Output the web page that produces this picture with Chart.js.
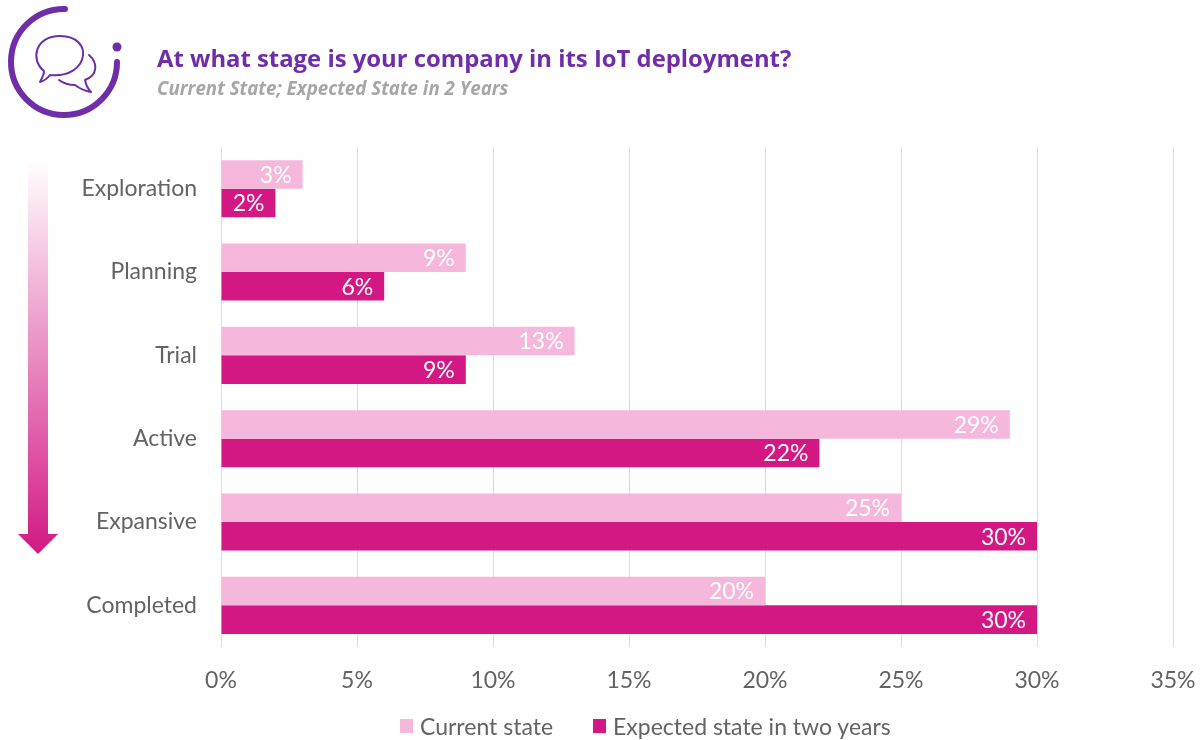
<!DOCTYPE html>
<html>
<head>
<meta charset="utf-8">
<title>IoT deployment stage</title>
<script src="https://cdn.jsdelivr.net/npm/chart.js@4"></script>
<style>
    html, body { margin: 0; padding: 0; background: #fff; }
    #page { position: relative; width: 1204px; height: 740px; overflow: hidden; }
    #barChart { position: absolute; left: 0; top: 0; }
    .deco { position: absolute; left: 0; top: 0; }
    h1, h2 { position: absolute; left: 157px; margin: 0; font-family: "Open Sans", sans-serif; white-space: nowrap; }
    h1 { top: 42px; font-size: 23.85px; line-height: 32px; font-weight: 700; color: #6f2da8; }
    h2 { top: 77px; font-size: 18.7px; line-height: 22px; font-weight: 700; font-style: italic; color: #a6a6a6; }
    #legend { position: absolute; left: 400px; top: 711px; display: flex; font: 23px/30px Lato, sans-serif; color: #636363; white-space: nowrap; }
    #legend span { display: flex; align-items: center; margin-right: 40px; }
    #legend i { width: 13px; height: 14px; margin-right: 7px; }
</style>
</head>
<body>
<div id="page">
    <canvas id="barChart" width="1204" height="740"></canvas>

    <!-- logo ring with speech bubbles, and the stage arrow on the left -->
    <svg class="deco" width="1204" height="740" fill="none">
        <defs>
            <linearGradient id="arrowFill" x1="0" y1="0" x2="0" y2="1">
                <stop offset="0" stop-color="#ffffff"/>
                <stop offset="1" stop-color="#d31884"/>
            </linearGradient>
        </defs>
        <path d="M65 9 A53 53 0 1 0 117 62" stroke="#6f2da8" stroke-width="6" stroke-linecap="round"/>
        <circle cx="117" cy="47" r="4.5" fill="#6f2da8"/>
        <path d="M44 71 C30 60 35 36 60 36 C78 36 84 47 83 55 C82 68 68 77 50 75 C47 79 44 81 40 82 C42 78 44 75 44 71 Z" stroke="#6f2da8" stroke-width="2" stroke-linejoin="round"/>
        <path d="M89 55 C98 63 98 75 85 80 C86 85 88 89 91 92 C85 91 79 88 75 85 C69 85 63 83 59 80" stroke="#6f2da8" stroke-width="2" stroke-linejoin="round" stroke-linecap="round"/>
        <path d="M28 160 H48 V534 H58 L38 554 L18 534 H28 Z" fill="url(#arrowFill)"/>
    </svg>

    <h1>At what stage is your company in its IoT deployment?</h1>
    <h2>Current State; Expected State in 2 Years</h2>
    <div id="legend"></div>
</div>

<script>
    const stages = ['Exploration', 'Planning', 'Trial', 'Active', 'Expansive', 'Completed'];
    const currentState = [3, 9, 13, 29, 25, 20];
    const expectedState = [2, 6, 9, 22, 30, 30];

    const labelFont = 'Lato, sans-serif';
    const textGrey = '#636363';

    // writes each value inside the end of its bar
    const barLabels = {
        id: 'barLabels',
        afterDatasetsDraw(chart) {
            const ctx = chart.ctx;
            ctx.save();
            ctx.font = '23px ' + labelFont;
            ctx.fillStyle = '#fff';
            ctx.textAlign = 'right';
            ctx.textBaseline = 'middle';
            chart.data.datasets.forEach(function (ds, i) {
                chart.getDatasetMeta(i).data.forEach(function (bar, j) {
                    ctx.fillText(ds.data[j] + '%', bar.x - 11, bar.y + 1);
                });
            });
            ctx.restore();
        }
    };

    window.onload = function () {
        const chart = new Chart(document.getElementById('barChart'), {
            type: 'bar',
            data: {
                labels: stages,
                datasets: [
                    { label: 'Current state', data: currentState, backgroundColor: '#f5b8dc' },
                    { label: 'Expected state in two years', data: expectedState, backgroundColor: '#d31884' }
                ]
            },
            options: {
                indexAxis: 'y',
                responsive: false,
                animation: false,
                layout: { padding: { top: 147, right: 31, left: 0, bottom: 42 } },
                datasets: { bar: { categoryPercentage: 0.685, barPercentage: 1 } },
                scales: {
                    x: {
                        min: 0,
                        max: 35,
                        ticks: {
                            stepSize: 5,
                            padding: 20,
                            maxRotation: 0,
                            color: textGrey,
                            font: { family: labelFont, size: 23 },
                            callback: function (v) { return v + '%'; }
                        },
                        grid: { color: '#dcdcdc', tickLength: 0 },
                        border: { display: false },
                        afterFit: function (scale) {
                            scale.height = 51;
                            scale.paddingLeft = 0;
                            scale.paddingRight = 0;
                        }
                    },
                    y: {
                        ticks: {
                            padding: 16,
                            color: textGrey,
                            font: { family: labelFont, size: 23 }
                        },
                        grid: { display: false },
                        border: { display: false },
                        afterFit: function (scale) { scale.width = 221; }
                    }
                },
                plugins: {
                    tooltip: { enabled: false },
                    legend: { display: false }
                }
            },
            plugins: [barLabels]
        });

        // legend sits under the plot, built from the datasets
        const legend = document.getElementById('legend');
        chart.data.datasets.forEach(function (ds) {
            const item = document.createElement('span');
            const box = document.createElement('i');
            box.style.background = ds.backgroundColor;
            item.appendChild(box);
            item.appendChild(document.createTextNode(ds.label));
            legend.appendChild(item);
        });
    };
</script>
</body>
</html>
